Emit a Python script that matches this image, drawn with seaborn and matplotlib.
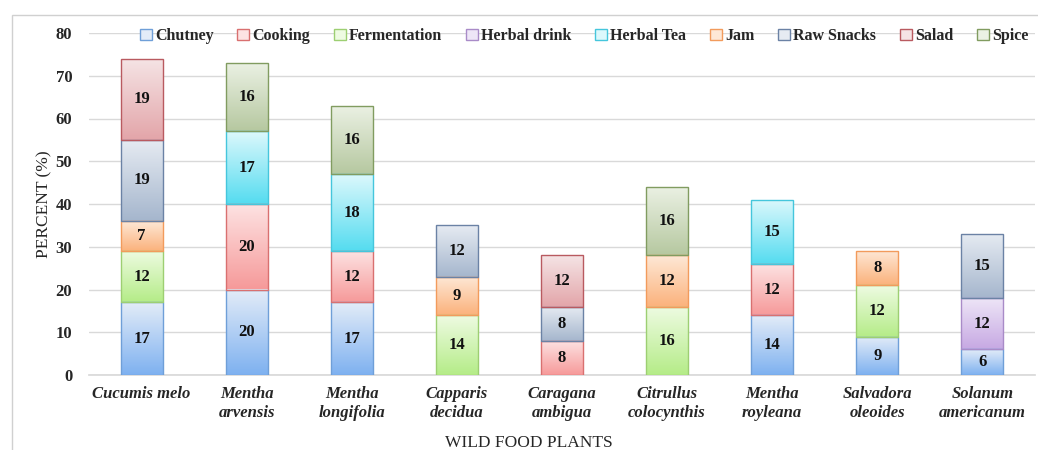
import numpy as np
import pandas as pd
import matplotlib
matplotlib.use("Agg")
import matplotlib.pyplot as plt
import seaborn as sns
from matplotlib.colors import LinearSegmentedColormap
from matplotlib.patches import Patch, Rectangle

plants = ["Cucumis melo", "Mentha\narvensis", "Mentha\nlongifolia", "Capparis\ndecidua",
          "Caragana\nambigua", "Citrullus\ncolocynthis", "Mentha\nroyleana",
          "Salvadora\noleoides", "Solanum\namericanum"]
categories = ["Chutney", "Cooking", "Fermentation", "Herbal drink", "Herbal Tea",
              "Jam", "Raw Snacks", "Salad", "Spice"]
chutney      = [17, 20, 17, 0, 0, 0, 14, 9, 6]
cooking      = [0, 20, 12, 0, 8, 0, 12, 0, 0]
fermentation = [12, 0, 0, 14, 0, 16, 0, 12, 0]
herbal_drink = [0, 0, 0, 0, 0, 0, 0, 0, 12]
herbal_tea   = [0, 17, 18, 0, 0, 0, 15, 0, 0]
jam          = [7, 0, 0, 9, 0, 12, 0, 8, 0]
raw_snacks   = [19, 0, 0, 12, 8, 0, 0, 0, 15]
salad        = [19, 0, 0, 0, 12, 0, 0, 0, 0]
spice        = [0, 16, 16, 0, 0, 16, 0, 0, 0]
series = [chutney, cooking, fermentation, herbal_drink, herbal_tea, jam, raw_snacks, salad, spice]
yticks = [0, 10, 20, 30, 40, 50, 60, 70, 80]

# (top colour, bottom colour, edge colour)
styles = {
    "Chutney":      ("#e3ecf8", "#7eb1f0", "#6f9fd8"),
    "Cooking":      ("#fde3e3", "#f69a9a", "#d97070"),
    "Fermentation": ("#eefbe2", "#b5ec88", "#9dcf72"),
    "Herbal drink": ("#eee6f7", "#c7a9e3", "#a98bc8"),
    "Herbal Tea":   ("#dcf8fc", "#55dcf0", "#45c6dc"),
    "Jam":          ("#fee8d6", "#fbb27c", "#f29b5c"),
    "Raw Snacks":   ("#e6ebf2", "#a5b6cd", "#6b82a5"),
    "Salad":        ("#f5e4e5", "#e3a5a9", "#b95a60"),
    "Spice":        ("#ebf1e4", "#b6c8a0", "#819c60"),
}

sns.set_theme(style="white")
plt.rcParams["font.family"] = ["Liberation Serif", "DejaVu Serif"]

fig = plt.figure(figsize=(10.38, 4.5), dpi=100)
ax = fig.add_axes([89 / 1038, 1 - 375 / 450, 946 / 1038, (375 - 33) / 450])

fig.patches.append(Rectangle((12 / 1038, -0.1), 1.2, 1.1 - 15 / 450,
                             transform=fig.transFigure, fill=False,
                             edgecolor="#d0d0d0", linewidth=1.0, zorder=0))

ax.set_axisbelow(True)
for y in yticks:
    ax.axhline(y, color="#d9d9d9", linewidth=1.0, zorder=0)

bottom = np.zeros(len(plants))
for cat, vals in zip(categories, series):
    vals = np.array(vals, dtype=float)
    top_c, bot_c, edge_c = styles[cat]
    n_before = len(ax.patches)
    sns.barplot(x=plants, y=vals, bottom=bottom, color=bot_c, width=0.4,
                edgecolor=edge_c, linewidth=1.0, ax=ax, zorder=2, saturation=1)
    new = ax.patches[n_before:]
    cmap = LinearSegmentedColormap.from_list(cat, [bot_c, top_c])
    for p, v, b in zip(new, vals, bottom):
        if v <= 0:
            p.set_visible(False)
            continue
        x0, w = p.get_x(), p.get_width()
        grad = np.linspace(0, 1, 100).reshape(-1, 1)
        im = ax.imshow(grad, extent=[x0, x0 + w, b, b + v], origin="lower",
                       aspect="auto", cmap=cmap, zorder=1.9, interpolation="bilinear")
        im.set_clip_path(p)
        p.set_facecolor("none")
        ax.text(x0 + w / 2, b + v / 2, f"{int(v)}", ha="center", va="center",
                fontsize=12, fontweight="bold", color="#111111", zorder=3)
    bottom = bottom + vals

ax.set_xlim(-0.5, len(plants) - 0.5)
ax.set_ylim(0, 80)
ax.set_yticks(yticks)
ax.set_yticklabels([str(t) for t in yticks], fontsize=12, fontweight="bold")
ax.set_xticks(range(len(plants)))
ax.set_xticklabels(plants, fontsize=12, fontweight="bold", fontstyle="italic")
ax.tick_params(axis="x", length=0, pad=8)
ax.tick_params(axis="y", length=0, pad=12)
for s in ["top", "right", "left"]:
    ax.spines[s].set_visible(False)
ax.spines["bottom"].set_color("#d9d9d9")
ax.spines["bottom"].set_zorder(0)

ax.set_ylabel("PERCENT (%)", fontsize=12.5)
ax.yaxis.set_label_coords(-0.039, 0.5)
ax.set_xlabel("WILD FOOD PLANTS", fontsize=12.5)
ax.xaxis.set_label_coords(0.465, -0.175)

handles = [Patch(facecolor=styles[c][0], edgecolor=styles[c][2], linewidth=1.0) for c in categories]
leg = fig.legend(handles, categories, loc="center", bbox_to_anchor=(584 / 1038, 1 - 36 / 450),
                 ncol=9, frameon=False, handlelength=0.75, handleheight=0.75,
                 handletextpad=0.2, columnspacing=1.48,
                 prop={"family": "Liberation Serif", "weight": "bold", "size": 11.5})

fig.savefig("out.png", dpi=100)
